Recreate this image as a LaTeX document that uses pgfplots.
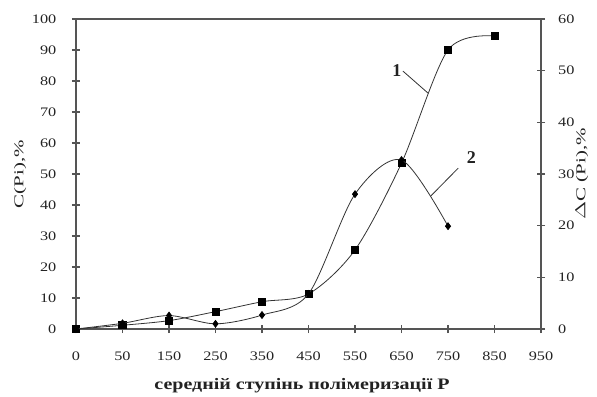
\documentclass[border=0pt]{standalone}
\usepackage{fontspec}
\setmainfont{Liberation Serif}
\usepackage{pgfplots}
\pgfplotsset{compat=1.18}
\definecolor{axisgray}{HTML}{555555}
\definecolor{linegray}{HTML}{333333}
\definecolor{txt}{HTML}{222222}
\begin{document}
\begin{tikzpicture}
\pgfplotsset{
  common/.style={
    width=465pt, height=310pt, scale only axis,
    xmin=0, xmax=10,
    tick align=center, major tick length=8pt,
    axis line style={axisgray, line width=1.1pt},
    every tick/.style={axisgray, line width=1.1pt},
    /pgf/number format/assume math mode=true,
    tick label style={font=\fontsize{13}{13}\selectfont, xscale=1.25, text=txt},
  },
}
\begin{axis}[common, name=ax,
  ymin=0, ymax=100, ytick={0,10,...,100},
  axis x line*=bottom, axis y line*=left,
  xtick={0,...,10},
  xticklabels={0,50,150,250,350,450,550,650,750,850,950},
  xticklabel style={yshift=-15pt},
  yticklabel style={xshift=-9pt},
  xlabel={\textbf{середній ступінь полімеризації Р}},
  xlabel style={at={(axis description cs:0.486,-0.184)}, anchor=center, font=\fontsize{16}{16}\selectfont, xscale=1.25, text=txt},
  ylabel={C(Pi),\%},
  ylabel style={at={(axis description cs:-0.12,0.5)}, anchor=center, font=\fontsize{13.5}{13.5}\selectfont, xscale=1.55, text=txt},
]
\addplot[linegray, line width=0.8pt, smooth, mark=square*, mark size=3.6pt, mark options={fill=black, draw=black}]
  coordinates {(0,0) (1,1.2) (2,2.7) (3,5.6) (4,8.8) (5,11.3) (6,25.5) (7,53.5) (8,90) (9,94.5)};
\draw[linegray, line width=0.8pt] (axis cs:7.03,83.2) -- (axis cs:7.57,76.1);
\draw[linegray, line width=0.8pt] (axis cs:8.22,51.9) -- (axis cs:7.63,42.9);
\node[font=\fontsize{18}{18}\selectfont\bfseries, text=txt] at (axis cs:6.90,83.5) {1};
\node[font=\fontsize{18}{18}\selectfont\bfseries, text=txt] at (axis cs:8.50,55.2) {2};
\end{axis}
\begin{axis}[common,
  ymin=0, ymax=60, ytick={0,10,...,60},
  axis y line*=right, axis x line*=top, xtick=\empty,
  yticklabel style={xshift=7pt},
  ylabel={$\Delta$C (Pi),\%},
  ylabel style={at={(axis description cs:1.088,0.5)}, anchor=center, font=\fontsize{13.5}{13.5}\selectfont, xscale=1.55, text=txt},
]
\addplot[linegray, line width=0.8pt, smooth, mark=diamond*, mark size=3.4pt, mark options={fill=black, draw=black}]
  coordinates {(0,0) (1,1.1) (2,2.6) (3,1.0) (4,2.7) (5,6.8) (6,26.1) (7,32.7) (8,19.9)};
\end{axis}
\draw[axisgray, line width=1.4pt] ([yshift=-0.4pt]ax.north west) -- ([yshift=-0.4pt]ax.north east);
\path ([xshift=-76pt,yshift=-65pt]ax.south west) rectangle ([xshift=56pt,yshift=19pt]ax.north east);
\end{tikzpicture}
\end{document}
